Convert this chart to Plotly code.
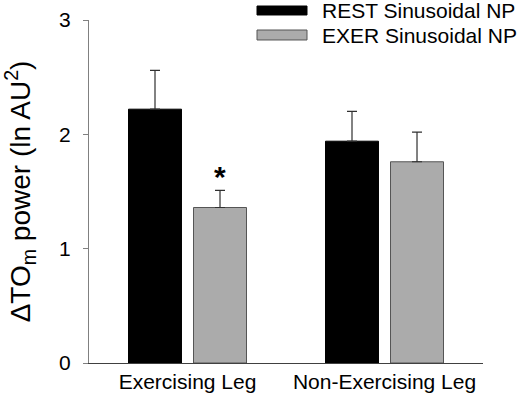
import plotly.graph_objects as go

categories = ["Exercising Leg", "Non-Exercising Leg"]
series_names = ["REST Sinusoidal NP", "EXER Sinusoidal NP"]
rest_values = [2.22, 1.94]
rest_errors = [0.34, 0.26]
exer_values = [1.36, 1.76]
exer_errors = [0.15, 0.26]
y_ticks = [0, 1, 2, 3]

FONT = "Liberation Sans, Arial, sans-serif"

fig = go.Figure()
fig.add_trace(go.Bar(
    x=categories, y=rest_values, name=series_names[0],
    marker=dict(color="#000000", line=dict(color="#000000", width=1)),
    error_y=dict(type="data", array=rest_errors, arrayminus=[0, 0], symmetric=False,
                 color="#303030", thickness=1.2, width=5),
    showlegend=False,
))
fig.add_trace(go.Bar(
    x=categories, y=exer_values, name=series_names[1],
    marker=dict(color="#ababab", line=dict(color="#555555", width=1)),
    error_y=dict(type="data", array=exer_errors, arrayminus=[0, 0], symmetric=False,
                 color="#303030", thickness=1.2, width=5),
    showlegend=False,
))

# significance marker above EXER bar of Exercising Leg
fig.add_annotation(x=categories[0], y=exer_values[0] + exer_errors[0], xref="x", yref="y",
                   text="<b>*</b>", showarrow=False, xshift=32.5, yshift=-5,
                   yanchor="bottom", font=dict(size=30, color="#000000", family=FONT))

# custom legend (wide swatches)
swatches = [
    (series_names[0], "#000000", "#000000", 1.0146, 1.0408),
    (series_names[1], "#ababab", "#555555", 0.9417, 0.9708),
]
for name, fill, line, y0, y1 in swatches:
    fig.add_shape(type="rect", xref="paper", yref="paper", x0=0.4264, x1=0.5533,
                  y0=y0, y1=y1, fillcolor=fill, line=dict(color=line, width=1))
    fig.add_annotation(xref="paper", yref="paper", x=0.5863, y=(y0 + y1) / 2,
                       text=name, showarrow=False, xanchor="left", yanchor="middle",
                       font=dict(size=21, color="#000000", family=FONT))

fig.update_layout(
    width=521, height=399,
    margin=dict(l=89, r=38, t=20, b=36, autoexpand=False),
    paper_bgcolor="white", plot_bgcolor="white",
    barmode="group", bargap=0.34, bargroupgap=0.185,
    font=dict(family=FONT, color="#000000"),
)
fig.update_xaxes(
    showline=True, linecolor="#404040", linewidth=1, automargin=False,
    ticks="", showgrid=False, tickfont=dict(size=21),
)
fig.update_yaxes(
    range=[0, 3], tickvals=y_ticks, showline=True, linecolor="#808080", linewidth=1.2,
    ticks="outside", ticklen=5, tickcolor="#808080", showgrid=False, zeroline=False,
    tickfont=dict(size=21), ticklabelstandoff=8, automargin=False,
    title=dict(text="ΔTO<sub>m</sub> power (ln AU<sup>2</sup>)", font=dict(size=28), standoff=20),
)

# remove the browser's default 8px page margin so the figure fills the window exactly
fig.write_html("out.html", config={"displayModeBar": False},
               post_script="document.body.style.margin='0';")
